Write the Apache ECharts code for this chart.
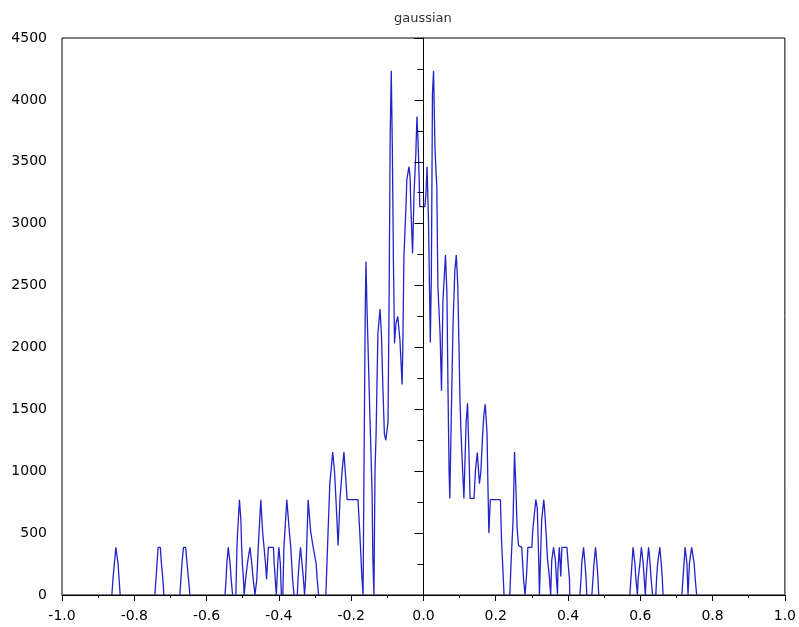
<!DOCTYPE html>
<html>
<head>
<meta charset="utf-8">
<script src="https://cdn.jsdelivr.net/npm/echarts@6/dist/echarts.min.js"></script>
<style>
  html, body { margin: 0; padding: 0; background: #fff; }
  #chart { width: 799px; height: 627px; }
</style>
</head>
<body>
<div id="chart"></div>
<script>
// x positions (value axis) and counts
var xValues = [
  -1.0,
  -0.862, -0.859, -0.855, -0.851, -0.848, -0.845, -0.842, -0.839,
  -0.743, -0.740, -0.737, -0.734, -0.728, -0.725, -0.721, -0.718,
  -0.674, -0.671, -0.668, -0.664, -0.658, -0.654, -0.650, -0.646,
  -0.549, -0.546, -0.544, -0.540, -0.535, -0.532, -0.528,
  -0.519, -0.516, -0.514, -0.509, -0.505, -0.503, -0.501, -0.498, -0.496,
  -0.492, -0.487, -0.480, -0.475, -0.471, -0.466,
  -0.461, -0.457, -0.450, -0.448, -0.445, -0.441, -0.437, -0.434,
  -0.429, -0.415, -0.413, -0.410, -0.407,
  -0.403, -0.400, -0.396, -0.393,
  -0.389, -0.386, -0.378, -0.376, -0.371, -0.367, -0.362, -0.358,
  -0.349, -0.347, -0.344, -0.340, -0.336, -0.332, -0.329,
  -0.326, -0.323, -0.319, -0.316, -0.312, -0.305, -0.297, -0.294, -0.290,
  -0.270, -0.264, -0.259, -0.251, -0.246, -0.242, -0.236, -0.231, -0.225, -0.220, -0.214, -0.211, -0.181, -0.176, -0.170, -0.167,
  -0.165, -0.161, -0.159, -0.156, -0.153, -0.148, -0.142, -0.140, -0.137,
  -0.134, -0.131, -0.129, -0.126, -0.120, -0.116, -0.112, -0.108, -0.104, -0.098,
  -0.095, -0.092, -0.089, -0.086, -0.083, -0.080, -0.076, -0.071, -0.065, -0.059,
  -0.057, -0.054, -0.048, -0.046, -0.040, -0.037, -0.035, -0.030, -0.026, -0.021,
  -0.018, -0.015, -0.012, -0.010, 0.004, 0.007, 0.010, 0.014, 0.017, 0.019,
  0.022, 0.025, 0.028, 0.032, 0.035, 0.037, 0.040, 0.046, 0.050, 0.054,
  0.061, 0.065, 0.068, 0.071, 0.073, 0.077, 0.082, 0.087, 0.091, 0.095,
  0.098, 0.101, 0.104, 0.108, 0.112, 0.118, 0.122, 0.126, 0.129, 0.140,
  0.144, 0.149, 0.155, 0.159, 0.163, 0.167, 0.171, 0.176, 0.178, 0.181,
  0.185, 0.213, 0.216, 0.220, 0.223,
  0.239, 0.243, 0.248, 0.252, 0.256, 0.259, 0.263, 0.272, 0.277, 0.281,
  0.285, 0.289, 0.300, 0.302, 0.305, 0.311, 0.315, 0.319, 0.321,
  0.327, 0.333, 0.335, 0.340, 0.343, 0.349, 0.352,
  0.355, 0.360, 0.365, 0.368, 0.371, 0.372, 0.376, 0.380, 0.383, 0.397, 0.401, 0.404, 0.405,
  0.433, 0.436, 0.438, 0.443, 0.447, 0.450, 0.452,
  0.466, 0.469, 0.472, 0.476, 0.480, 0.483, 0.485,
  0.571, 0.574, 0.577, 0.580, 0.585, 0.588, 0.592,
  0.594, 0.599, 0.603, 0.608, 0.611, 0.614,
  0.616, 0.619, 0.623, 0.627, 0.630, 0.634,
  0.643, 0.645, 0.648, 0.654, 0.658, 0.661, 0.663,
  0.715, 0.718, 0.721, 0.724, 0.729, 0.732,
  0.736, 0.738, 0.742, 0.745, 0.749, 0.752, 0.756,
  1.0
];
var counts = [
  0,
  0, 128, 256, 385, 385, 256, 128, 0,
  0, 128, 256, 385, 385, 256, 128, 0,
  0, 128, 256, 385, 385, 256, 128, 0,
  0, 128, 256, 385, 256, 128, 0,
  0, 385, 513, 770, 600, 385, 256, 128, 0,
  128, 256, 385, 256, 128, 0,
  128, 385, 770, 770, 513, 385, 256, 128,
  385, 385, 256, 128, 0,
  256, 385, 256, 0,
  0, 385, 770, 770, 513, 385, 128, 0,
  0, 128, 256, 385, 256, 128, 0,
  128, 385, 770, 770, 513, 385, 256, 128, 0,
  0, 500, 900, 1155, 1000, 770, 400, 770, 1000, 1155, 900, 770, 770, 500, 128, 0,
  800, 2300, 2695, 2300, 1980, 1440, 821, 300, 0,
  1000, 1300, 1630, 2114, 2310, 2087, 1656, 1300, 1250, 1400,
  2383, 3700, 4235, 3600, 2693, 2033, 2195, 2250, 2060, 1700,
  2006, 2733, 3164, 3353, 3460, 3380, 3150, 2760, 3245, 3568,
  3865, 3676, 3380, 3137, 3137, 3245, 3460, 3030, 2437, 2040,
  2600, 4050, 4235, 3600, 3407, 3300, 2491, 2114, 1650, 2383,
  2747, 2437, 1650, 1000, 780, 1440, 2200, 2626, 2747, 2500,
  2060, 1590, 1306, 1037, 780, 1387, 1548, 1145, 780, 780,
  1010, 1150, 900, 1000, 1252, 1450, 1540, 1306, 956, 500,
  770, 770, 450, 200, 0,
  0, 300, 600, 1155, 850, 550, 400, 385, 128, 0,
  150, 385, 385, 500, 600, 770, 700, 270, 0,
  600, 770, 700, 470, 300, 128, 0,
  280, 385, 280, 128, 0, 200, 385, 150, 385, 385, 230, 128, 0,
  0, 128, 256, 385, 256, 128, 0,
  0, 128, 256, 385, 256, 128, 0,
  0, 128, 256, 385, 256, 128, 0,
  128, 256, 385, 256, 128, 0,
  128, 256, 385, 256, 128, 0,
  0, 128, 256, 385, 256, 128, 0,
  0, 128, 256, 385, 256, 0,
  256, 256, 385, 385, 256, 128, 0,
  0
];

// break the trace where it just runs along zero, so the black axis shows there
var points = [];
xValues.forEach(function (x, i) {
  points.push([x, counts[i]]);
  if (counts[i] === 0 && counts[i + 1] === 0) points.push([x, '-']);
});

var chart = echarts.init(document.getElementById('chart'));
var labelFont = { color: '#000', fontFamily: 'DejaVu Sans', fontSize: 14 };

chart.setOption({
  animation: false,
  backgroundColor: '#fff',
  title: {
    text: 'gaussian',
    left: 389,
    top: 7,
    textStyle: { color: '#333', fontFamily: 'DejaVu Sans', fontSize: 13, fontWeight: 'normal' }
  },
  grid: {
    left: 62, right: 13, top: 38, bottom: 32,
    show: true, borderColor: '#000', borderWidth: 1
  },
  xAxis: {
    type: 'value',
    min: -1, max: 1, interval: 0.2,
    z: 3,
    axisLine: { lineStyle: { color: '#000', width: 1 } },
    axisTick: { length: 6, lineStyle: { color: '#000' } },
    minorTick: { show: true, splitNumber: 2, length: 3, lineStyle: { color: '#000' } },
    splitLine: { show: false },
    axisLabel: Object.assign({
      margin: 14,
      formatter: function (v) { return Math.abs(v) < 1e-9 ? '0.0' : v.toFixed(1); }
    }, labelFont)
  },
  yAxis: {
    type: 'value',
    min: 0, max: 4500, interval: 500,
    z: 3,
    axisLine: { show: true, lineStyle: { color: '#000', width: 1 } },
    axisTick: { show: true, length: 9, lineStyle: { color: '#000' } },
    minorTick: { show: true, splitNumber: 2, length: 6, lineStyle: { color: '#000' } },
    splitLine: { show: false },
    axisLabel: Object.assign({
      margin: 15,
      formatter: function (v) { return String(v); }
    }, labelFont)
  },
  series: [{
    type: 'line',
    data: points,
    connectNulls: false,
    showSymbol: false,
    symbol: 'none',
    z: 1,
    lineStyle: { color: '#2323c8', width: 1.3 }
  }]
});
</script>
</body>
</html>
